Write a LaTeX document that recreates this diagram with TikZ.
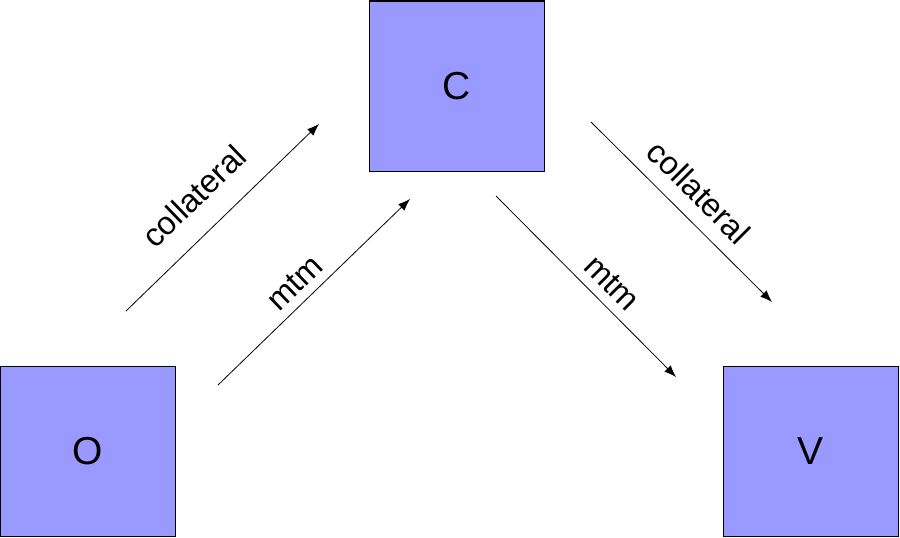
\documentclass[tikz,border=0pt]{standalone}
\usepackage{fontspec}
\setmainfont{Liberation Sans}
\usetikzlibrary{arrows.meta}
\definecolor{boxblue}{RGB}{153,153,255}
\begin{document}
\begin{tikzpicture}[x=1pt,y=-1pt,
  boxnode/.style={draw=black,line width=1pt,fill=boxblue,minimum width=175pt,minimum height=170pt,inner sep=0pt,font=\fontsize{39}{39}\selectfont},
  conn/.style={line width=0.8pt,-{Latex[length=12pt,width=9pt]}},
  lbl/.style={font=\fontsize{32.5}{32.5}\selectfont,inner sep=0pt}]
\useasboundingbox (0,0) rectangle (900,538);
\node[boxnode] (O) at (88,451.5) {O};
\node[boxnode] (C) at (456.5,86) {C};
\node[boxnode] (V) at (810.5,451.5) {V};
\coordinate (a1) at (126,311); \coordinate (a2) at (319,124);
\coordinate (b1) at (218,385); \coordinate (b2) at (410,199);
\coordinate (c1) at (496,196); \coordinate (c2) at (676,377);
\coordinate (d1) at (591,122); \coordinate (d2) at (772,302);
\draw[conn] (a1) -- (a2);
\draw[conn] (b1) -- (b2);
\draw[conn] (c1) -- (c2);
\draw[conn] (d1) -- (d2);
\node[lbl,rotate=44] (la) at (194,196) {collateral};
\node[lbl,rotate=44] (lb) at (295,283) {mtm};
\node[lbl,rotate=-45] (lc) at (612,283) {mtm};
\node[lbl,rotate=-45] (ld) at (699,192) {collateral};
\end{tikzpicture}
\end{document}
